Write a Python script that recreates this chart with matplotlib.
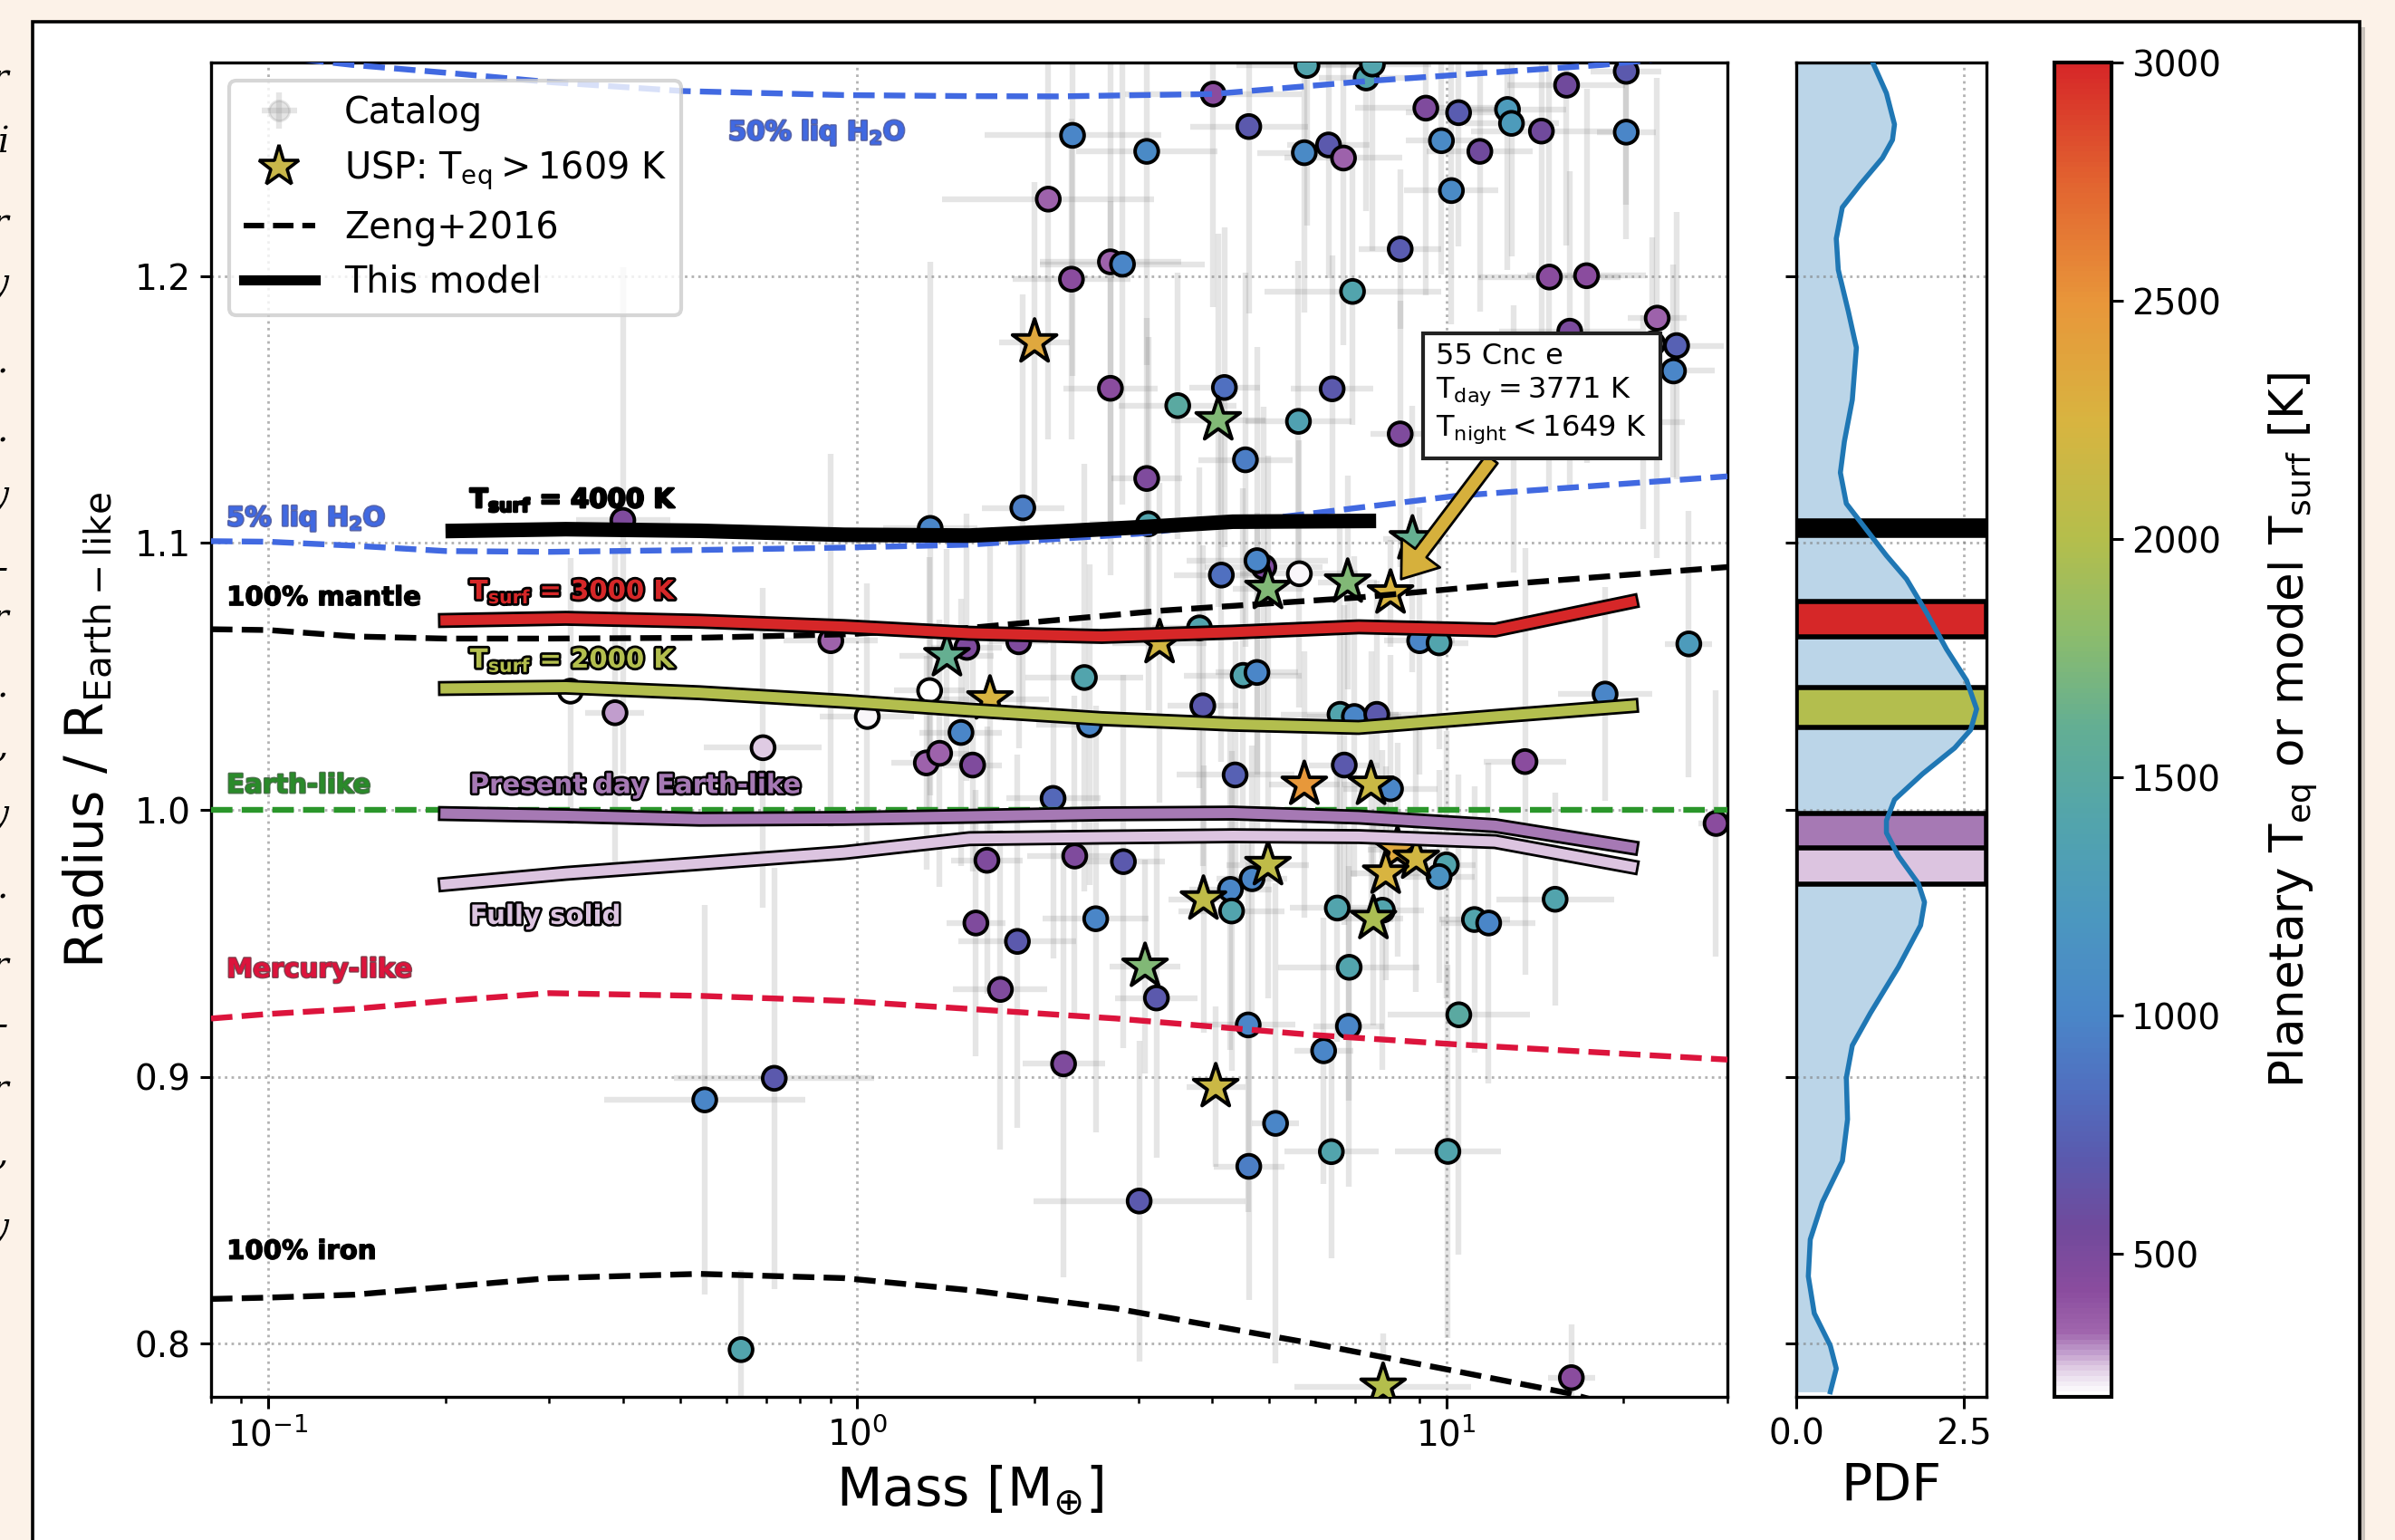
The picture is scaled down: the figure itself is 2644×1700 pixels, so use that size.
import numpy as np
import matplotlib
matplotlib.use('Agg')
import matplotlib.pyplot as plt
import matplotlib.patheffects as pe
from matplotlib.colors import LinearSegmentedColormap, Normalize
from matplotlib.cm import ScalarMappable
from matplotlib.lines import Line2D
from matplotlib.patches import Rectangle

# ---------------- data ----------------
# catalog planets (circles): mass [Mearth], radius / R_Earth-like, Teq [K], mass err [dex], radius err
cat_mass = [5.80, 7.31, 7.49, 4.02, 20.2, 16.0, 9.23, 10.49, 12.7, 12.9, 14.5, 20.2, 2.32, 3.10, 4.62,
            5.74, 6.31, 6.69, 9.81, 11.4, 10.2, 2.11, 8.35, 2.69, 2.82, 2.31, 14.96, 17.3, 6.93, 22.8,
            16.2, 24.6, 24.3, 22.4, 13.0, 21.6, 2.69, 4.20, 6.40, 3.50, 5.61, 8.35, 4.56, 3.10, 1.91,
            3.12, 1.33, 0.40, 4.9, 4.77, 4.15, 5.63, 3.81, 9.01, 9.72, 25.8, 2.43, 4.52, 4.77, 3.86,
            18.6, 6.6, 6.98, 7.62, 2.48, 1.88, 1.535, 1.57, 2.15, 4.38, 6.71, 8.04, 13.6, 28.7, 1.66,
            2.34, 2.83, 4.68, 4.30, 4.32, 10.0, 9.72, 6.53, 7.79, 11.16, 11.8, 15.3, 1.59, 2.54, 1.87,
            3.22, 1.75, 6.84, 10.5, 4.61, 6.82, 6.19, 2.24, 5.13, 6.38, 10.06, 4.62, 3.01, 16.3, 0.692,
            1.04, 0.326, 0.388, 1.327, 1.50, 1.31, 1.38, 0.902, 0.551, 0.723, 0.635]
cat_rad = [1.279, 1.2743, 1.2795, 1.2683, 1.2768, 1.2716, 1.263, 1.2613, 1.2625, 1.2573, 1.2544, 1.254,
           1.2528, 1.2468, 1.2561, 1.2463, 1.2492, 1.2443, 1.2508, 1.2468, 1.2321, 1.2289, 1.2102,
           1.2054, 1.2045, 1.1989, 1.1997, 1.2002, 1.1943, 1.1843, 1.1794, 1.174, 1.1645, 1.1747,
           1.1391, 1.1453, 1.158, 1.1583, 1.1578, 1.1515, 1.1456, 1.1409, 1.1312, 1.1242, 1.1132,
           1.1072, 1.1055, 1.1085, 1.091, 1.0934, 1.088, 1.0885, 1.0682, 1.0634, 1.0626, 1.0622,
           1.0496, 1.0504, 1.0515, 1.039, 1.0434, 1.0358, 1.035, 1.0358, 1.0319, 1.063, 1.0609,
           1.0168, 1.0043, 1.0131, 1.0168, 1.0079, 1.0181, 0.9949, 0.9811, 0.9827, 0.9806, 0.9742,
           0.9702, 0.9621, 0.9794, 0.975, 0.9632, 0.9624, 0.9589, 0.9576, 0.9665, 0.9576, 0.9592,
           0.9507, 0.9295, 0.9327, 0.941, 0.9232, 0.9194, 0.9189, 0.9097, 0.9048, 0.8825, 0.8719,
           0.872, 0.8664, 0.8534, 0.7872, 1.0233, 1.035, 1.0445, 1.0364, 1.0447, 1.029, 1.0176,
           1.0212, 1.0634, 0.8913, 0.8994, 0.7977]
cat_teq = [1400, 1400, 1400, 420, 700, 560, 480, 720, 1250, 1250, 560, 1000, 1000, 1050, 700,
           1050, 700, 350, 1050, 560, 1050, 350, 720, 350, 1000, 420, 420, 420, 1400, 350,
           500, 750, 1000, 230, 250, 220, 420, 850, 700, 1500, 1350, 480, 950, 480, 950,
           1400, 1000, 480, 480, 1000, 850, 215, 1400, 1000, 1400, 1250, 1400, 1400, 1000, 700,
           1000, 1400, 1000, 700, 1000, 480, 480, 480, 800, 750, 700, 1000, 420, 420, 480,
           480, 700, 1000, 1000, 1400, 1400, 1150, 1400, 1400, 1400, 1000, 1400, 480, 1000, 700,
           700, 480, 1400, 1500, 1000, 1000, 1000, 480, 1000, 1400, 1400, 950, 700, 420, 260,
           215, 205, 290, 205, 1000, 350, 350, 350, 1000, 700, 1400]
cat_mdex = [0.12, 0.08, 0.10, 0.15, 0.06, 0.10, 0.12, 0.09, 0.10, 0.08, 0.12, 0.05, 0.15, 0.12, 0.10,
            0.08, 0.07, 0.10, 0.06, 0.09, 0.08, 0.18, 0.07, 0.12, 0.14, 0.10, 0.12, 0.10, 0.15, 0.05,
            0.12, 0.08, 0.07, 0.06, 0.08, 0.07, 0.08, 0.06, 0.07, 0.10, 0.09, 0.05, 0.08, 0.06, 0.07,
            0.10, 0.08, 0.08, 0.10, 0.12, 0.08, 0.10, 0.08, 0.06, 0.05, 0.04, 0.10, 0.10, 0.07, 0.06,
            0.08, 0.10, 0.08, 0.07, 0.09, 0.05, 0.06, 0.05, 0.08, 0.10, 0.06, 0.08, 0.07, 0.03, 0.06,
            0.08, 0.07, 0.06, 0.07, 0.09, 0.05, 0.06, 0.08, 0.07, 0.06, 0.08, 0.10, 0.05, 0.09, 0.10,
            0.07, 0.08, 0.12, 0.12, 0.08, 0.06, 0.05, 0.07, 0.04, 0.08, 0.09, 0.06, 0.18, 0.04, 0.10,
            0.08, 0.06, 0.05, 0.06, 0.07, 0.06, 0.05, 0.08, 0.17, 0.17, 0.02]
cat_rerr = [0.06, 0.05, 0.07, 0.08, 0.05, 0.06, 0.07, 0.05, 0.06, 0.05, 0.08, 0.04, 0.09, 0.08, 0.07,
            0.06, 0.05, 0.07, 0.05, 0.06, 0.05, 0.09, 0.03, 0.10, 0.09, 0.06, 0.08, 0.07, 0.05, 0.09,
            0.06, 0.05, 0.04, 0.04, 0.05, 0.04, 0.07, 0.06, 0.05, 0.05, 0.06, 0.05, 0.07, 0.06, 0.08,
            0.07, 0.10, 0.095, 0.06, 0.08, 0.07, 0.05, 0.06, 0.05, 0.04, 0.05, 0.08, 0.07, 0.06, 0.06,
            0.04, 0.07, 0.06, 0.05, 0.06, 0.04, 0.05, 0.04, 0.06, 0.05, 0.06, 0.05, 0.08, 0.05, 0.05,
            0.06, 0.07, 0.05, 0.06, 0.06, 0.05, 0.04, 0.05, 0.06, 0.05, 0.06, 0.04, 0.05, 0.08, 0.07,
            0.06, 0.06, 0.05, 0.09, 0.07, 0.06, 0.05, 0.08, 0.09, 0.04, 0.07, 0.05, 0.06, 0.02, 0.06,
            0.05, 0.05, 0.06, 0.05, 0.05, 0.04, 0.05, 0.07, 0.073, 0.079, 0.03]

# ultra-short-period planets (stars)
usp_mass = [2.0, 4.10, 8.76, 4.98, 6.80, 8.04, 3.26, 1.68, 1.42, 5.74, 7.45, 4.98, 3.87, 8.26, 8.89,
            7.89, 7.52, 3.08, 4.06, 7.81]
usp_rad = [1.1753, 1.1461, 1.1015, 1.0829, 1.0853, 1.0812, 1.0626, 1.0415, 1.0577, 1.0095, 1.0095,
           0.9794, 0.9665, 0.9851, 0.9818, 0.9762, 0.9592, 0.9413, 0.8962, 0.7839]
usp_teq = [2350, 1750, 1620, 1750, 1750, 2250, 2200, 2250, 1620, 2480, 2150, 2080, 2080, 2350, 2200,
           2250, 1950, 1750, 2150, 2000]
usp_mdex = [0.06, 0.08, 0.05, 0.06, 0.05, 0.02, 0.08, 0.10, 0.08, 0.06, 0.05, 0.07, 0.06, 0.05, 0.05,
            0.06, 0.05, 0.06, 0.05, 0.15]
usp_rerr = [0.06, 0.07, 0.05, 0.05, 0.04, 0.02, 0.06, 0.06, 0.04, 0.05, 0.05, 0.05, 0.05, 0.04, 0.05,
            0.04, 0.04, 0.04, 0.03, 0.02]

# Zeng+2016 curves
h2o50_m = [0.08, 0.139, 0.207, 0.303, 0.506, 0.946, 1.55, 2.19, 4.02, 7.4, 18.4, 30]
h2o50_r = [1.285, 1.2792, 1.276, 1.2727, 1.2694, 1.2679, 1.2675, 1.2674, 1.2683, 1.2732, 1.2792, 1.284]
h2o5_m = [0.08, 0.1, 0.14, 0.2, 0.3, 0.54, 0.95, 1.55, 3.0, 5.8, 10.4, 30]
h2o5_r = [1.1007, 1.1005, 1.099, 1.097, 1.0967, 1.0974, 1.0983, 1.0994, 1.1035, 1.1109, 1.1177, 1.125]
mantle_m = [0.08, 0.1, 0.14, 0.2, 0.3, 0.54, 0.95, 1.55, 3.3, 7.1, 12.5, 30]
mantle_r = [1.0677, 1.0674, 1.065, 1.0642, 1.0642, 1.0645, 1.0658, 1.0682, 1.0747, 1.0796, 1.0845, 1.091]
earth_m = [0.08, 30]
earth_r = [1.0, 1.0]
merc_m = [0.08, 0.1, 0.14, 0.2, 0.3, 0.54, 0.95, 1.55, 2.75, 5.9, 10.4, 30]
merc_r = [0.9218, 0.9235, 0.9254, 0.9284, 0.9313, 0.9303, 0.9284, 0.9254, 0.9218, 0.9157, 0.9121, 0.9064]
iron_m = [0.08, 0.1, 0.14, 0.2, 0.3, 0.54, 0.95, 1.55, 2.75, 5.9, 10.4, 16.1, 30]
iron_r = [0.8167, 0.8172, 0.8183, 0.8212, 0.8245, 0.8261, 0.8245, 0.82, 0.8131, 0.8001, 0.7896, 0.7814, 0.765]

# This model
t4000_m = [0.2, 0.32, 0.54, 0.95, 1.55, 2.27, 3.12, 4.34, 7.6]
t4000_r = [1.1045, 1.1052, 1.1046, 1.1031, 1.1028, 1.1045, 1.1061, 1.108, 1.1083]
mod_m = [0.2, 0.32, 0.54, 0.95, 1.55, 2.6, 4.34, 7.1, 12.1, 20.6]
t3000_r = [1.071, 1.0718, 1.0707, 1.0687, 1.0662, 1.065, 1.0666, 1.0686, 1.0674, 1.078]
t2000_r = [1.0455, 1.046, 1.0439, 1.0407, 1.0374, 1.0342, 1.0321, 1.0309, 1.035, 1.039]
pres_r = [0.9986, 0.9978, 0.9965, 0.9968, 0.9976, 0.9985, 0.9988, 0.9973, 0.9941, 0.9859]
solid_r = [0.9721, 0.9762, 0.9799, 0.984, 0.9892, 0.9898, 0.9903, 0.99, 0.9881, 0.9787]

# radius PDF of the catalog
pdf_r = [1.2803, 1.2686, 1.2569, 1.2511, 1.2443, 1.2345, 1.2258, 1.2141, 1.2024, 1.1868, 1.1732,
         1.1537, 1.1381, 1.1264, 1.1148, 1.107, 1.0953, 1.0865, 1.0739, 1.0602, 1.0485, 1.0378,
         1.03, 1.0232, 1.0135, 1.0038, 0.996, 0.9914, 0.9827, 0.9723, 0.9654, 0.9567, 0.9411,
         0.9238, 0.9117, 0.8996, 0.884, 0.8684, 0.8529, 0.839, 0.8252, 0.8113, 0.7992, 0.7906, 0.7819]
pdf_v = [1.137, 1.345, 1.465, 1.435, 1.285, 0.957, 0.687, 0.597, 0.627, 0.777, 0.897,
         0.836, 0.718, 0.658, 0.747, 0.986, 1.345, 1.645, 1.943, 2.242, 2.541, 2.69,
         2.601, 2.362, 1.884, 1.465, 1.345, 1.345, 1.524, 1.823, 1.913, 1.854, 1.524,
         1.105, 0.836, 0.747, 0.765, 0.688, 0.388, 0.209, 0.180, 0.269, 0.508, 0.597, 0.508]

cb_ticks = [500, 1000, 1500, 2000, 2500, 3000]

# ---------------- style ----------------
W, H, DPI = 2644, 1700, 200
fig = plt.figure(figsize=(W / DPI, H / DPI), dpi=DPI, facecolor='#fcf2e8')

# document panel + shadow (behind the axes)
fig.patches.append(Rectangle((42 / W, -0.1), (2605 - 36) / W, 1.1 - 30 / H, transform=fig.transFigure,
                             fc='#a8a4a0', ec='none', alpha=0.6, zorder=-3))
fig.patches.append(Rectangle((36 / W, -0.1), (2605 - 36) / W, 1.1 - 24 / H, transform=fig.transFigure,
                             fc='white', ec='black', lw=1.3, zorder=-2))

# cut-off text fragments of the neighbouring column
frag_chars = ['r', 'i', 'r', 'y', '.', '.', 'y', '-', 'r', '.', ',', 'y', '.', 'r', '-', 'r', ',', 'y']
frag_y = [87, 157, 247, 314, 401, 477, 548, 629, 683, 759, 824, 900, 981, 1068, 1133, 1204, 1274, 1356]
for ch, yy in zip(frag_chars, frag_y):
    fig.text(9 / W, 1 - yy / H, ch, ha='right', va='center', fontsize=14, style='italic',
             family='DejaVu Serif', color='black')

cm_vals = [200, 230, 260, 290, 330, 420, 550, 700, 850, 1000, 1200, 1400, 1600, 1800, 2000, 2250, 2500,
           2750, 3000]
cm_cols = ['#ffffff', '#efe6f2', '#dcc6e0', '#bf9acb', '#a066ad', '#8a4c9e', '#704a9c', '#5a5aae',
           '#5070c0', '#4a86c8', '#4b97c0', '#52a4ad', '#62ae94', '#8cbc6c', '#b4be4c', '#d8b440',
           '#e8963a', '#e26430', '#d62728']
VMIN, VMAX = 200, 3000
cmap = LinearSegmentedColormap.from_list('teq', [((v - VMIN) / (VMAX - VMIN), c) for v, c in zip(cm_vals, cm_cols)])
norm = Normalize(VMIN, VMAX)

bottom = 1 - 1542 / H
height = (1542 - 69.3) / H
ax = fig.add_axes([233 / W, bottom, (1907 - 233) / W, height])
axp = fig.add_axes([1983 / W, bottom, 209.5 / W, height])
cax = fig.add_axes([2267.7 / W, bottom, 62.8 / W, height])

TICK = 14
for a in (ax, axp):
    for s in a.spines.values():
        s.set_linewidth(1.2)
    a.tick_params(labelsize=TICK, length=4.5, width=1.1, direction='out')
    a.tick_params(which='minor', length=2.6, width=0.9)

# ---------------- main panel ----------------
ax.set_xscale('log')
ax.set_xlim(0.08, 30)
ax.set_ylim(0.78, 1.28)
ax.set_yticks([0.8, 0.9, 1.0, 1.1, 1.2])
ax.grid(True, which='major', ls=':', color='gray', alpha=0.6, lw=1.0)

all_m = np.array(cat_mass + usp_mass)
all_r = np.array(cat_rad + usp_rad)
all_d = np.array(cat_mdex + usp_mdex)
all_e = np.array(cat_rerr + usp_rerr)
xlo = all_m - all_m / 10 ** all_d
xhi = all_m * 10 ** all_d - all_m
cat_h = ax.errorbar(all_m, all_r, xerr=[xlo, xhi], yerr=all_e, fmt='o', color='gray', alpha=0.2,
                    ms=8, elinewidth=2.3, capsize=0, zorder=1, label='Catalog')

ax.scatter(cat_mass, cat_rad, c=cat_teq, cmap=cmap, norm=norm, s=85, edgecolors='k',
           linewidths=1.4, zorder=3)
ax.scatter(usp_mass, usp_rad, c=usp_teq, cmap=cmap, norm=norm, s=340, marker='*', edgecolors='k',
           linewidths=1.4, zorder=3.5)

# Zeng+2016 curves
zlw = 2.3
ax.plot(h2o50_m, h2o50_r, ls='--', color='royalblue', lw=zlw, zorder=4)
ax.plot(h2o5_m, h2o5_r, ls='--', color='royalblue', lw=zlw, zorder=4)
ax.plot(mantle_m, mantle_r, ls='--', color='black', lw=zlw, zorder=4)
ax.plot(earth_m, earth_r, ls='--', color='#2a962a', lw=zlw, zorder=4)
ax.plot(merc_m, merc_r, ls='--', color='crimson', lw=zlw, zorder=4)
ax.plot(iron_m, iron_r, ls='--', color='black', lw=zlw, zorder=4)

# This model
def outline(w):
    return [pe.Stroke(linewidth=w + 2.0, foreground='k', capstyle='projecting'),
            pe.Normal()]

mlw = 4.0
ax.plot(t4000_m, t4000_r, color='black', lw=5.8, solid_capstyle='butt', zorder=5)
ax.plot(mod_m, t3000_r, color='#d62728', lw=mlw, solid_capstyle='projecting', zorder=5, path_effects=outline(mlw))
ax.plot(mod_m, t2000_r, color='#b3be4e', lw=mlw, solid_capstyle='projecting', zorder=5, path_effects=outline(mlw))
ax.plot(mod_m, pres_r, color='#a679b4', lw=mlw, solid_capstyle='projecting', zorder=5, path_effects=outline(mlw))
ax.plot(mod_m, solid_r, color='#dcc4e0', lw=mlw, solid_capstyle='projecting', zorder=5, path_effects=outline(mlw))

# curve labels
LFS = 10.5
def lab(x, y, s, col, sw, sc='k', alpha=1.0):
    ax.text(x, y, s, color=col, fontsize=LFS, fontweight='bold', va='center', ha='left', zorder=8,
            path_effects=[pe.withStroke(linewidth=sw, foreground=sc, alpha=alpha)])

lab(0.604, 1.2538, r'50% liq H$_\mathbf{2}$O', 'royalblue', 1.0, '#1c2a80', 0.7)
lab(0.085, 1.1092, r'5% liq H$_\mathbf{2}$O', 'royalblue', 1.0, '#1c2a80', 0.7)
lab(0.085, 1.0794, '100% mantle', 'black', 0.5)
lab(0.085, 1.0091, 'Earth-like', '#2a8a2a', 0.9, '#0a3a0a', 0.7)
lab(0.085, 0.940, 'Mercury-like', 'crimson', 0.9, '#4a0010', 0.7)
lab(0.085, 0.8344, '100% iron', 'black', 0.5)
lab(0.22, 1.116, r'$\mathbf{T_{surf}}$ = 4000 K', 'black', 0.9)
lab(0.22, 1.0817, r'$\mathbf{T_{surf}}$ = 3000 K', '#d62728', 2.0)
lab(0.22, 1.056, r'$\mathbf{T_{surf}}$ = 2000 K', '#b3be4e', 2.0)
lab(0.22, 1.009, 'Present day Earth-like', '#a679b4', 1.9)
lab(0.22, 0.960, 'Fully solid', '#dcc4e0', 1.9)

# 55 Cnc e annotation
ax.annotate('55 Cnc e\nT$_{\\rm day} = 3771$ K\nT$_{\\rm night} < 1649$ K',
            xy=(8.04, 1.0812), xytext=(14.5, 1.156), fontsize=11.5, ha='center', va='center',
            multialignment='left', zorder=9, linespacing=1.25,
            bbox=dict(boxstyle='square,pad=0.45', fc='white', ec='#222222', lw=1.5),
            arrowprops=dict(arrowstyle='simple,head_length=0.65,head_width=0.95,tail_width=0.28',
                            mutation_scale=20, fc='#d6b03c', ec='k', lw=1.0, shrinkA=0, shrinkB=7))

handles = [cat_h,
           Line2D([], [], marker='*', ls='none', ms=17, mfc='#c9b84a', mec='k', mew=1.3),
           Line2D([], [], ls='--', color='k', lw=2.2),
           Line2D([], [], ls='-', color='k', lw=4.0)]
labels = ['Catalog', r'USP: T$_{\rm eq} > 1609$ K', 'Zeng+2016', 'This model']
leg = ax.legend(handles, labels, loc='upper left', fontsize=14.3, framealpha=0.8, edgecolor='#cccccc')
leg.set_zorder(10)
leg.get_frame().set_linewidth(1.5)

ax.set_xlabel(r'Mass [M$_{\oplus}$]', fontsize=21)
ax.set_ylabel(r'Radius / R$_{\rm Earth-like}$', fontsize=21, labelpad=8)

# ---------------- PDF panel ----------------
axp.set_ylim(0.78, 1.28)
axp.set_xlim(0, 2.83)
axp.set_yticks([0.8, 0.9, 1.0, 1.1, 1.2])
axp.set_xticks([0, 2.5])
axp.set_xticklabels(['0.0', '2.5'])
axp.tick_params(labelleft=False)
axp.grid(True, ls=':', color='gray', alpha=0.6, lw=1.0)
axp.fill_betweenx(pdf_r, 0, pdf_v, color='#1f77b4', alpha=0.3, lw=0, zorder=1)
band_models = [(t4000_r, 'black'), (t3000_r, '#d62728'), (t2000_r, '#b3be4e'),
               (solid_r, '#dcc4e0'), (pres_r, '#a679b4')]
for rr, col in band_models:
    axp.axhspan(min(rr), max(rr), fc=col, ec='k', lw=2.0, zorder=2)
axp.plot(pdf_v, pdf_r, color='#1f77b4', lw=2.0, zorder=3, solid_joinstyle='round')
axp.set_xlabel('PDF', fontsize=20.5)

# ---------------- colorbar ----------------
cb = fig.colorbar(ScalarMappable(norm=norm, cmap=cmap), cax=cax, ticks=cb_ticks)
cb.outline.set_linewidth(1.5)
cax.tick_params(labelsize=TICK, length=4.5, width=1.1)
cb.set_label(r'Planetary T$_{\rm eq}$ or model T$_{\rm surf}$ [K]', fontsize=18.5, labelpad=18)

fig.savefig('out.png', dpi=DPI, facecolor=fig.get_facecolor())
